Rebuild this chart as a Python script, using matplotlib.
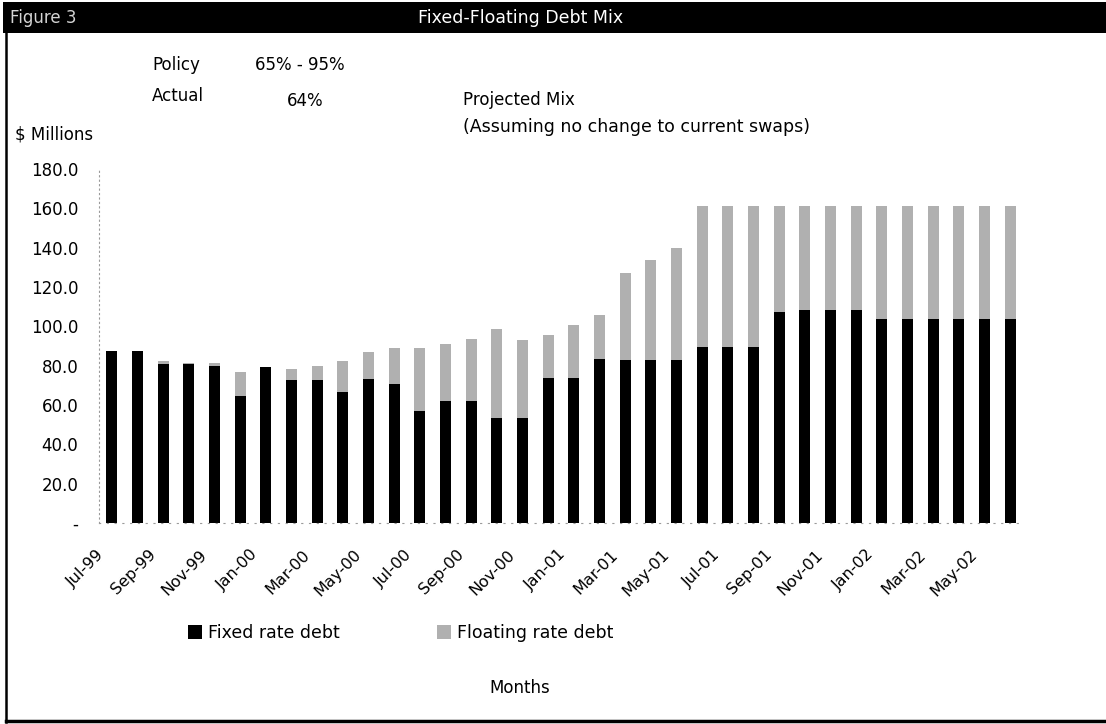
import matplotlib
matplotlib.use("Agg")
import matplotlib.pyplot as plt
from matplotlib.patches import Rectangle
from matplotlib.lines import Line2D
from matplotlib.transforms import ScaledTranslation
import numpy as np

# Monthly debt mix, $ millions
months = ["Jul-99", "Aug-99", "Sep-99", "Oct-99", "Nov-99", "Dec-99",
          "Jan-00", "Feb-00", "Mar-00", "Apr-00", "May-00", "Jun-00",
          "Jul-00", "Aug-00", "Sep-00", "Oct-00", "Nov-00", "Dec-00",
          "Jan-01", "Feb-01", "Mar-01", "Apr-01", "May-01", "Jun-01",
          "Jul-01", "Aug-01", "Sep-01", "Oct-01", "Nov-01", "Dec-01",
          "Jan-02", "Feb-02", "Mar-02", "Apr-02", "May-02", "Jun-02"]

fixed_debt = [87.5, 87.5, 80.8, 80.7, 79.8, 64.4, 79.5, 72.5, 72.7, 66.6,
              73.4, 70.5, 56.8, 62.0, 62.0, 53.2, 53.2, 73.5, 73.5, 83.5,
              82.8, 83.0, 82.8, 89.5, 89.5, 89.5, 107.5, 108.5, 108.5, 108.5,
              103.5, 103.5, 103.5, 103.5, 103.5, 103.5]

floating_debt = [0.0, 0.0, 1.7, 0.7, 1.7, 12.6, 0.0, 6.0, 7.1, 15.7,
                 13.8, 18.7, 32.2, 28.8, 31.7, 45.3, 40.0, 22.0, 27.0, 22.5,
                 44.2, 50.5, 57.2, 71.5, 71.5, 71.5, 53.5, 52.5, 52.5, 52.5,
                 57.5, 57.5, 57.5, 57.5, 57.5, 57.5]

y_ticks = [0, 20, 40, 60, 80, 100, 120, 140, 160, 180]
y_tick_labels = ["-", "20.0", "40.0", "60.0", "80.0", "100.0", "120.0",
                 "140.0", "160.0", "180.0"]

W, H = 1106, 724
plt.rcParams["font.family"] = ["DejaVu Sans"]

fig = plt.figure(figsize=(W / 100, H / 100), dpi=100)
fig.patch.set_facecolor("white")


def fx(px):
    return px / W


def fy(py):
    return 1 - py / H


ax = fig.add_axes([fx(99), fy(523), fx(1023) - fx(99), fy(169) - fy(523)])

x = np.arange(len(months))
ax.bar(x, fixed_debt, width=0.42, color="black", label="Fixed rate debt")
ax.bar(x, floating_debt, width=0.42, bottom=fixed_debt, color="#b0b0b0",
       label="Floating rate debt")

ax.set_xlim(-0.5, len(months) - 0.5)
ax.set_ylim(0, 180)
ax.set_yticks(y_ticks)
ax.set_yticklabels(y_tick_labels, fontsize=12)
ax.tick_params(axis="y", length=0, pad=15)

ax.set_xticks(x[::2])
ax.set_xticklabels(months[::2], fontsize=11.5, rotation=45, ha="right",
                   va="center", rotation_mode="anchor")
ax.tick_params(axis="x", length=0, pad=21)
shift = ScaledTranslation(-10 / 100, 0, fig.dpi_scale_trans)
for lbl in ax.get_xticklabels():
    lbl.set_transform(lbl.get_transform() + shift)

for side in ("top", "right"):
    ax.spines[side].set_visible(False)
ax.spines["left"].set_linestyle((0, (1, 3)))
ax.spines["left"].set_color("#9a9a9a")
ax.spines["left"].set_linewidth(0.8)
ax.spines["bottom"].set_linestyle((0, (1, 6)))
ax.spines["bottom"].set_color("#9a9a9a")
ax.spines["bottom"].set_linewidth(0.8)

# Frame and title band
fig.add_artist(Rectangle((fx(3), fy(33)), fx(W) - fx(3), fy(2) - fy(33),
                         transform=fig.transFigure, facecolor="black",
                         edgecolor="none", zorder=0))
fig.add_artist(Line2D([fx(6), fx(6)], [fy(33), fy(722)],
                      transform=fig.transFigure, color="black", lw=1.8))
fig.add_artist(Line2D([fx(6), fx(W)], [fy(721), fy(721)],
                      transform=fig.transFigure, color="black", lw=2.5))

fig.text(fx(10), fy(18), "Figure 3", color="#d4d4d4", fontsize=12,
         ha="left", va="center")
fig.text(fx(521), fy(18), "Fixed-Floating Debt Mix", color="white",
         fontsize=12.5, ha="center", va="center", fontweight="medium")

fig.text(fx(152), fy(65), "Policy", fontsize=12, ha="left", va="center")
fig.text(fx(255), fy(65), "65% - 95%", fontsize=12, ha="left", va="center")
fig.text(fx(152), fy(96), "Actual", fontsize=12, ha="left", va="center")
fig.text(fx(287), fy(101), "64%", fontsize=12, ha="left", va="center")
fig.text(fx(15), fy(135), "$ Millions", fontsize=12, ha="left", va="center")
fig.text(fx(463), fy(100), "Projected Mix", fontsize=12, ha="left",
         va="center")
fig.text(fx(463), fy(127), "(Assuming no change to current swaps)",
         fontsize=12.5, ha="left", va="center")
fig.text(fx(520), fy(688), "Months", fontsize=12, ha="center", va="center")

fig.legend(loc="center left", bbox_to_anchor=(fx(188), fy(633)), ncol=2,
           frameon=False, fontsize=12.5, handlelength=0.8, handleheight=0.8,
           handletextpad=0.35, columnspacing=5.6, borderpad=0,
           borderaxespad=0)

fig.savefig("out.png", dpi=100)
